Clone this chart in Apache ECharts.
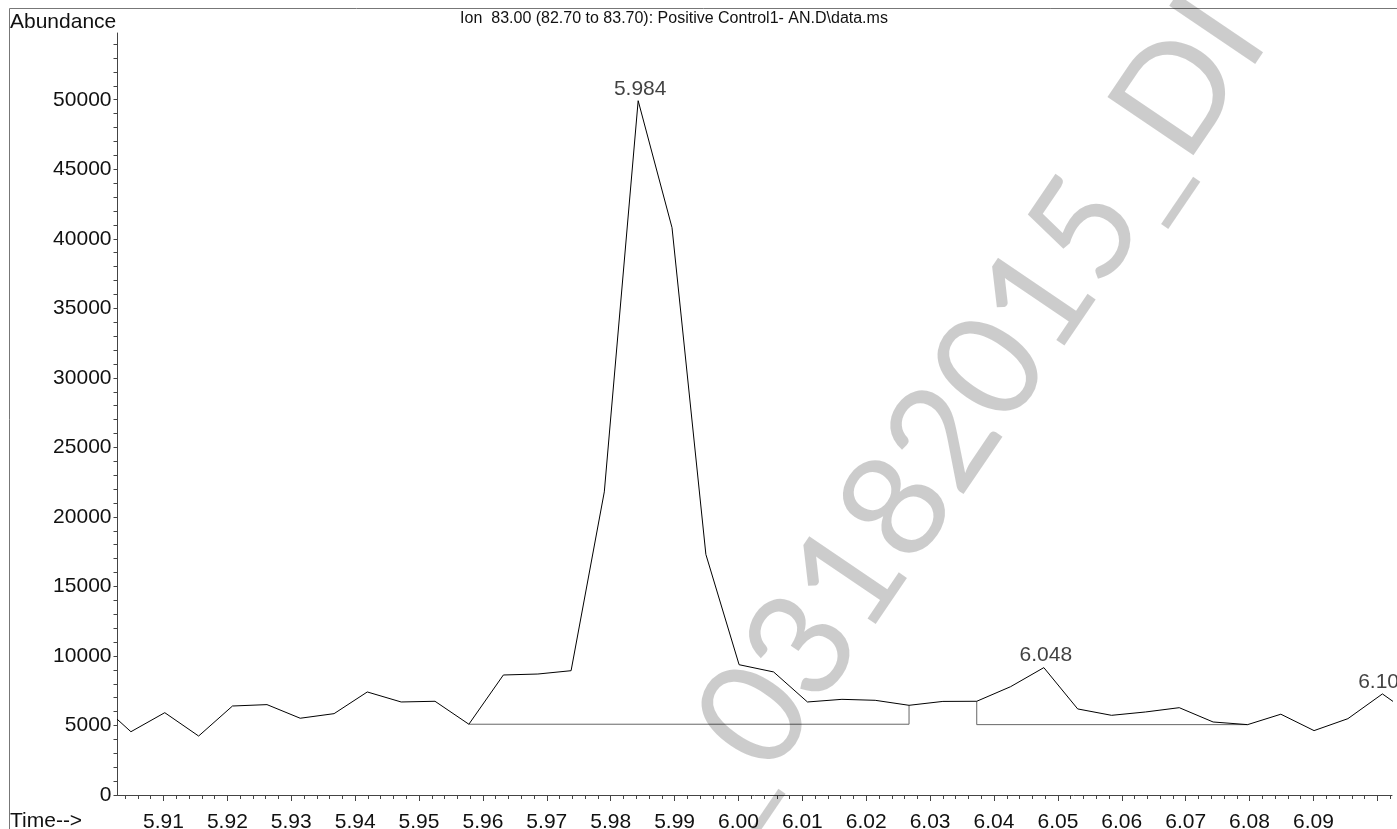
<!DOCTYPE html>
<html>
<head>
<meta charset="utf-8">
<script src="https://cdn.jsdelivr.net/npm/echarts@6/dist/echarts.min.js"></script>
<style>
html,body{margin:0;padding:0;background:#fff;}
#chart{width:1397px;height:829px;}
</style>
</head>
<body>
<div id="chart"></div>
<script>
// ---- data ----
const times = [5.8998, 5.9049, 5.9102, 5.9155, 5.9208, 5.9262, 5.9314, 5.9367, 5.9419, 5.9472,
  5.9525, 5.9578, 5.9632, 5.9686, 5.9738, 5.9790, 5.9843, 5.9896, 5.9949, 6.0001,
  6.0055, 6.0108, 6.0162, 6.0214, 6.0267, 6.0320, 6.0373, 6.0426, 6.0478, 6.0531,
  6.0584, 6.0637, 6.0690, 6.0743, 6.0797, 6.0849, 6.0901, 6.0954, 6.1008, 6.1061];
const abundance = [6680, 4550, 5920, 4240, 6400, 6500, 5520, 5850, 7410, 6690,
  6740, 5090, 8630, 8700, 8940, 21800, 49930, 40800, 17300, 9370,
  8850, 6690, 6880, 6810, 6450, 6730, 6740, 7790, 9160, 6190,
  5730, 5970, 6280, 5250, 5060, 5810, 4630, 5490, 7270, 5540];
const baseline1 = [[5.9578, 5090], [6.0267, 5090], [6.0267, 6450]];
const baseline2 = [[6.0373, 6740], [6.0373, 5060], [6.0797, 5060]];
const peakLabels = ['5.984', '6.048', '6.101'];
const peakTimes = [5.9843, 6.0478, 6.1008];
const peakValues = [49930, 9160, 7270];
const xTickLabels = ['5.91','5.92','5.93','5.94','5.95','5.96','5.97','5.98','5.99','6.00',
  '6.01','6.02','6.03','6.04','6.05','6.06','6.07','6.08','6.09'];
const xMajorTicks = [5.91,5.92,5.93,5.94,5.95,5.96,5.97,5.98,5.99,6.00,6.01,6.02,6.03,6.04,6.05,6.06,6.07,6.08,6.09,6.10];
const yTickLabels = [0, 5000, 10000, 15000, 20000, 25000, 30000, 35000, 40000, 45000, 50000];
const titleText = 'Ion  83.00 (82.70 to 83.70): Positive Control1- AN.D\\data.ms';
const watermarkText = '_03182015_DI';

// ---- helpers ----
const xMin = 5.9028, xMax = 6.1023, yMin = 0, yMax = 54800;
const xMinorTicks = [];
for (let k = 5904; k <= 6102; k += 2) { if (k % 10 !== 0) xMinorTicks.push(k / 1000); }
const yMinorTicks = [];
for (let v = 0; v <= 54000; v += 1000) yMinorTicks.push(v);

const FONT = '"Liberation Sans", Arial, Helvetica, sans-serif';
const TXT = '#111';
const AX = '#444';

const chart = echarts.init(document.getElementById('chart'), null, {renderer: 'canvas'});
chart.setOption({
  animation: false,
  backgroundColor: '#fff',
  grid: {left: 117.5, right: 5, top: 33, bottom: 34, containLabel: false, outerBoundsMode: 'none'},
  xAxis: [{
    type: 'value', min: xMin, max: xMax, position: 'bottom',
    axisLine: {show: true, lineStyle: {color: AX, width: 1}},
    axisTick: {show: true, customValues: xMajorTicks, length: 6, lineStyle: {color: AX, width: 1}},
    axisLabel: {show: true, customValues: xTickLabels.map(Number), formatter: v => Number(v).toFixed(2),
      fontSize: 21, fontFamily: FONT, color: TXT, margin: 17},
    splitLine: {show: false}
  }, {
    type: 'value', min: xMin, max: xMax, position: 'bottom', gridIndex: 0,
    axisLine: {show: false},
    axisTick: {show: true, customValues: xMinorTicks, length: 4, lineStyle: {color: AX, width: 1}},
    axisLabel: {show: false},
    splitLine: {show: false}
  }],
  yAxis: [{
    type: 'value', min: yMin, max: yMax,
    axisLine: {show: true, lineStyle: {color: AX, width: 1}},
    axisTick: {show: true, customValues: yMinorTicks, length: 4, lineStyle: {color: AX, width: 1}},
    axisLabel: {show: true, customValues: yTickLabels, formatter: v => String(v),
      fontSize: 21, fontFamily: FONT, color: TXT, margin: 6},
    splitLine: {show: false}
  }],
  series: [{
    type: 'line', xAxisIndex: 0, yAxisIndex: 0,
    data: times.map((t, i) => [t, abundance[i]]),
    showSymbol: false, symbol: 'none', clip: true,
    lineStyle: {color: '#000', width: 1}, z: 3
  }, {
    type: 'line', data: baseline1, showSymbol: false, symbol: 'none', clip: true,
    lineStyle: {color: '#666', width: 1}, z: 2
  }, {
    type: 'line', data: baseline2, showSymbol: false, symbol: 'none', clip: true,
    lineStyle: {color: '#666', width: 1}, z: 2
  }, {
    type: 'scatter', clip: false,
    data: peakTimes.map((t, i) => ({value: [t, peakValues[i]], name: peakLabels[i]})),
    symbolSize: 1, itemStyle: {color: 'rgba(0,0,0,0)'},
    label: {show: true, position: 'top', distance: 1, offset: [2, 0], formatter: p => p.name,
      fontSize: 21, fontFamily: FONT, color: TXT},
    z: 4
  }],
  graphic: [
    {type: 'rect', shape: {x: 9.5, y: 8.5, width: 1400, height: 840}, style: {fill: null, stroke: '#777', lineWidth: 1}, silent: true, z: 1},
    {type: 'text', x: 10, y: 33, style: {text: 'Abundance', fontSize: 21, fontFamily: FONT, fill: TXT, textAlign: 'left', textVerticalAlign: 'bottom'}, z: 5},
    {type: 'text', x: 10, y: 832, style: {text: 'Time-->', fontSize: 21, fontFamily: FONT, fill: TXT, textAlign: 'left', textVerticalAlign: 'bottom'}, z: 5},
    {type: 'text', x: 674, y: 27, style: {text: titleText, fontSize: 16, fontFamily: FONT, fill: TXT, textAlign: 'center', textVerticalAlign: 'bottom'}, z: 5},
    {type: 'text', x: 695, y: 807, rotation: 0.975, style: {text: watermarkText, fontSize: 145, fontFamily: 'Lato, "Open Sans", sans-serif', fill: 'rgba(0,0,0,0.2)', textAlign: 'left', textVerticalAlign: 'middle'}, silent: true, z: 10}
  ]
});
</script>
</body>
</html>
